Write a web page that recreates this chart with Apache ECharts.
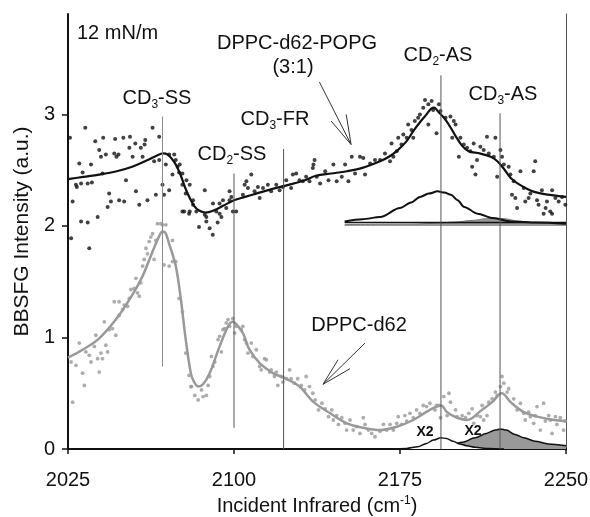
<!DOCTYPE html>
<html><head><meta charset="utf-8">
<script src="https://cdn.jsdelivr.net/npm/echarts@6/dist/echarts.min.js"></script>
<style>html,body{margin:0;padding:0;background:#fff}#c{width:590px;height:517px}</style>
</head><body><div id="c"></div>
<script>
// ---- data (wavenumber cm-1, intensity a.u.) ----
const xTicks = [2025, 2100, 2175, 2250];
const yTicks = [0, 1, 2, 3];

// DPPC-d62-POPG (3:1) measured points
const mixDots = [[2025.9,2.79],[2032.8,2.88],[2037.3,2.76],[2040.9,2.79],[2046.3,2.78],[2050.0,2.79],[2053.0,2.80],[2055.4,2.74],[2059.6,2.73],[2059.9,2.77],[2063.2,2.88],[2066.2,2.80],[2030.1,2.56],[2031.6,2.48],[2035.4,2.55],[2039.1,2.68],[2039.9,2.62],[2042.1,2.64],[2045.9,2.65],[2046.9,2.62],[2047.8,2.64],[2052.7,2.70],[2054.2,2.62],[2057.9,2.70],[2058.7,2.62],[2063.9,2.58],[2066.2,2.59],[2069.2,2.55],[2070.7,2.64],[2073.0,2.64],[2073.7,2.59],[2074.5,2.53],[2075.2,2.48],[2076.7,2.37],[2078.2,2.29],[2077.5,2.13],[2028.6,2.37],[2030.9,2.38],[2033.9,2.38],[2035.8,2.39],[2040.6,2.47],[2051.2,2.41],[2055.7,2.31],[2067.7,2.37],[2043.6,2.29],[2048.1,2.23],[2044.4,2.22],[2042.9,2.17],[2050.4,2.22],[2057.2,2.19],[2060.9,2.23],[2064.7,2.28],[2027.1,2.22],[2030.9,2.04],[2033.9,2.03],[2038.4,2.08],[2070.7,2.32],[2072.2,2.46],[2068.4,2.28],[2034.6,1.80],[2026.4,1.89],[2076.7,2.13],[2079.7,2.11],[2029.0,2.35],[2084.2,1.99],[2090.4,1.92],[2092.6,2.03],[2087.5,2.08],[2093.5,2.11],[2098.0,2.23],[2105.6,2.40],[2107.8,2.46],[2080.0,2.13],[2081.5,2.23],[2078.5,2.41],[2076.7,2.47],[2075.5,2.55],
[2080.0,2.37],[2081.5,2.19],[2083.0,2.13],[2086.8,2.32],[2086.8,2.10],[2087.5,2.04],[2089.0,1.98],[2090.5,2.20],[2092.0,2.13],[2093.5,2.20],[2094.3,2.08],[2095.0,2.23],[2096.5,2.16],[2098.0,2.31],[2098.8,2.26],[2099.5,2.13],[2101.0,2.13],[2104.0,2.28],[2104.8,2.37],[2106.3,2.34],[2109.3,2.31],[2110.8,2.35],[2111.6,2.25],[2113.1,2.34],[2115.3,2.37],[2116.8,2.31],[2119.1,2.37],[2120.6,2.32],[2122.1,2.35],[2123.6,2.41],[2125.8,2.34],[2126.6,2.46],[2128.1,2.47],[2129.6,2.41],[2131.1,2.40],[2132.6,2.44],[2134.1,2.40],[2135.6,2.52],[2136.4,2.59],
[2135.9,2.55],[2137.4,2.44],[2138.9,2.38],[2141.2,2.49],[2142.7,2.41],[2144.9,2.55],[2146.4,2.40],[2148.7,2.44],[2150.2,2.55],[2151.7,2.40],[2153.2,2.62],[2154.7,2.47],[2156.9,2.62],[2158.4,2.61],[2159.2,2.46],[2161.5,2.56],[2163.7,2.59],[2166.0,2.59],[2168.2,2.65],[2170.5,2.58],[2171.2,2.74],[2172.0,2.62],[2173.5,2.67],[2174.2,2.79],[2175.7,2.73],[2176.5,2.82],[2178.0,2.79],[2178.7,2.91],[2180.2,2.86],[2181.0,2.79],[2181.7,2.94],[2183.2,2.97],[2184.0,3.00],[2185.5,3.06],[2186.3,3.13],[2187.8,3.09],[2189.3,3.12],[2190.0,3.04],[2187.8,2.91],[2191.5,2.83],
[2192.6,3.09],[2193.3,3.03],[2195.6,2.97],[2197.8,2.98],[2199.3,2.94],[2198.6,2.79],[2200.1,2.91],[2202.3,2.79],[2201.6,2.62],[2203.8,2.73],[2205.3,2.70],[2206.8,2.67],[2207.6,2.53],[2208.3,2.74],[2209.1,2.46],[2209.8,2.59],[2211.3,2.71],[2212.8,2.68],[2214.3,2.80],[2215.1,2.65],[2217.4,2.62],[2218.1,2.79],[2218.9,2.44],[2220.4,2.68],[2221.1,2.62],[2221.9,2.55],[2224.1,2.53],[2224.9,2.46],[2226.4,2.40],[2225.6,2.28],[2227.1,2.25],[2227.9,2.16],[2229.4,2.49],[2230.9,2.34],[2231.6,2.22],[2233.1,2.25],[2233.9,2.29],[2235.4,2.49],[2236.1,2.58],[2236.9,2.23],[2237.6,2.19],[2239.1,2.32],[2239.9,2.11],[2241.4,2.22],[2242.9,2.13],[2243.7,2.32],[2245.2,2.25],[2246.7,2.22],[2248.2,2.26],[2249.7,2.19],[2240.8,2.16],[2243.7,2.11]];

// DPPC-d62-POPG fit
const mixFit = [[2025,2.42],[2032,2.44],[2039,2.46],[2047,2.49],[2054,2.53],[2061,2.59],[2065,2.63],[2068,2.65],[2070,2.64],[2072,2.60],[2074,2.54],[2076,2.45],[2078,2.34],[2080,2.25],[2082,2.18],[2084,2.14],[2087,2.12],[2091,2.14],[2095,2.18],[2100,2.23],[2105,2.26],[2110,2.29],[2117,2.33],[2125,2.37],[2132,2.41],[2137,2.45],[2144,2.47],[2151,2.49],[2158,2.52],[2166,2.58],[2170,2.62],[2174,2.68],[2178,2.76],[2181,2.85],[2184,2.93],[2187,3.0],[2189,3.05],[2190.5,3.06],[2192,3.03],[2196,2.94],[2200,2.81],[2203,2.72],[2206,2.67],[2211,2.65],[2216,2.62],[2219,2.58],[2222,2.51],[2225,2.43],[2229,2.37],[2235,2.31],[2242,2.28],[2250,2.26]];

// DPPC-d62 measured points
const pureDots = [[2026.4,0.78],[2028.6,0.75],[2030.1,0.95],[2031.6,0.68],[2032.4,0.57],[2027.1,0.42],[2033.1,0.87],[2034.6,0.84],[2035.4,0.78],[2036.9,0.92],[2037.6,1.02],[2038.4,0.81],[2039.1,0.69],[2039.9,0.86],[2040.6,0.81],[2042.1,0.93],[2042.9,0.87],[2041.4,1.14],[2043.6,1.07],[2045.1,1.08],[2046.6,1.02],[2045.9,1.32],[2048.1,1.32],[2048.1,1.20],[2049.7,1.25],[2050.4,1.29],[2051.9,1.28],[2052.7,1.35],[2053.4,1.43],[2054.9,1.44],[2055.7,1.53],[2056.4,1.40],[2057.2,1.37],[2057.9,1.49],[2058.7,1.64],[2059.4,1.70],[2060.2,1.80],[2060.9,1.75],[2061.7,1.86],[2062.4,1.90],[2063.2,1.93],[2063.9,1.70],[2064.7,1.87],[2065.4,2.02],[2066.9,2.02],[2067.7,2.01],[2069.2,2.01],[2072.2,1.87],[2068.4,1.65],[2070.7,1.64],[2072.2,1.68],[2073.7,1.68],[2075.2,1.35],[2076.7,1.23],[2078.2,0.86],[2079.7,0.66],[2080.5,0.56],
[2080.8,0.56],[2082.3,0.48],[2083.8,0.44],[2085.3,0.53],[2086.0,0.47],[2087.5,0.48],[2088.3,0.57],[2089.0,0.65],[2090.5,0.74],[2089.8,0.83],[2091.3,0.78],[2092.8,0.98],[2093.5,1.01],[2094.3,0.87],[2095.0,1.07],[2095.8,1.08],[2096.5,1.13],[2097.3,1.16],[2098.0,1.10],[2099.5,1.17],[2100.3,1.04],[2101.0,1.10],[2103.3,1.07],[2104.0,1.10],[2104.8,0.98],[2105.6,0.95],[2106.3,0.86],[2107.8,0.95],[2108.6,0.83],[2110.1,0.89],[2111.6,0.74],[2112.3,0.71],[2113.8,0.81],[2114.6,0.80],[2116.1,0.69],[2116.8,0.71],[2118.3,0.65],[2119.1,0.69],[2119.8,0.57],[2121.3,0.65],[2122.1,0.60],[2123.6,0.63],[2125.1,0.71],[2125.8,0.63],[2127.3,0.59],[2128.8,0.63],[2130.4,0.57],[2131.9,0.53],[2132.6,0.65],[2134.1,0.56],[2135.6,0.50],
[2136.7,0.44],[2138.2,0.35],[2139.7,0.41],[2141.2,0.36],[2142.7,0.29],[2144.2,0.35],[2144.9,0.26],[2146.4,0.30],[2147.2,0.22],[2148.7,0.28],[2150.2,0.23],[2150.9,0.17],[2152.4,0.26],[2153.9,0.17],[2155.4,0.20],[2156.9,0.14],[2158.4,0.28],[2159.2,0.22],[2160.7,0.17],[2162.2,0.14],[2163.7,0.11],[2166.0,0.16],[2167.5,0.22],[2169.0,0.17],[2170.5,0.22],[2172.0,0.17],[2173.5,0.23],[2174.2,0.29],[2175.7,0.22],[2177.2,0.30],[2178.0,0.25],[2179.5,0.32],[2181.0,0.28],[2182.5,0.35],[2184.0,0.32],[2185.5,0.39],[2187.0,0.38],[2188.5,0.41],[2190.8,0.35],[2191.5,0.39],
[2192.6,0.39],[2194.8,0.47],[2197.1,0.50],[2197.8,0.42],[2193.3,0.28],[2196.3,0.30],[2200.1,0.35],[2200.8,0.29],[2203.1,0.30],[2204.6,0.28],[2206.1,0.32],[2207.6,0.36],[2208.3,0.23],[2209.8,0.30],[2211.3,0.29],[2212.1,0.39],[2212.8,0.26],[2214.3,0.30],[2215.1,0.42],[2216.6,0.45],[2218.1,0.51],[2218.9,0.48],[2220.4,0.56],[2221.1,0.65],[2221.9,0.59],[2223.4,0.51],[2224.1,0.54],[2226.4,0.45],[2227.9,0.35],[2229.4,0.41],[2230.9,0.32],[2231.6,0.26],[2233.1,0.33],[2233.9,0.29],[2235.4,0.23],[2236.1,0.30],[2236.9,0.38],[2238.4,0.17],[2239.9,0.41],[2240.7,0.25],[2242.2,0.30],[2242.9,0.26],[2243.7,0.14],[2245.2,0.29],[2245.9,0.22],[2247.4,0.28],[2248.9,0.17],[2249.7,0.25]];

// DPPC-d62 fit
const pureFit = [[2025,0.82],[2031.6,0.89],[2039,0.99],[2046.6,1.16],[2054,1.38],[2058.7,1.55],[2063,1.76],[2066,1.9],[2067.7,1.95],[2069,1.94],[2070.7,1.84],[2073.7,1.64],[2076,1.34],[2078.2,0.98],[2080.5,0.68],[2082,0.6],[2084,0.56],[2086,0.58],[2089,0.68],[2093.5,0.92],[2097.3,1.10],[2099.5,1.14],[2101,1.12],[2104,1.04],[2107,0.89],[2111.6,0.77],[2117.6,0.68],[2123.6,0.63],[2129.6,0.56],[2136,0.42],[2143.5,0.32],[2151,0.23],[2158.5,0.19],[2166,0.17],[2173.5,0.20],[2181,0.26],[2188.5,0.35],[2193.5,0.39],[2196.3,0.33],[2200.8,0.28],[2205.4,0.26],[2211.4,0.34],[2216.6,0.42],[2221,0.50],[2225,0.42],[2231,0.33],[2237,0.29],[2244.5,0.26],[2250,0.25]];

// fitted components
const mixCD2AS = [[2150,2.04],[2158,2.06],[2166,2.08],[2175,2.16],[2180,2.21],[2184,2.26],[2188,2.29],[2192,2.31],[2195,2.30],[2198,2.28],[2201,2.23],[2204,2.17],[2210,2.11],[2217,2.07],[2225,2.04],[2237,2.03],[2250,2.02]];
const mixCD3AS = [[2150,2.012],[2180,2.016],[2190,2.022],[2200,2.035],[2208,2.05],[2214,2.065],[2218,2.07],[2222,2.065],[2228,2.045],[2235,2.03],[2242,2.022],[2250,2.018]];
const mixBase = [[2150,2.03],[2250,2.03]];
const pureCD2AS = [[2170,0],[2178,0.005],[2183,0.02],[2187,0.05],[2190,0.08],[2193.5,0.10],[2196,0.095],[2199,0.07],[2202,0.045],[2205,0.03],[2209,0.015],[2215,0.005],[2222,0]];
const pureCD3AS = [[2180,0.005],[2190,0.015],[2197,0.03],[2203,0.06],[2209,0.10],[2214,0.14],[2218,0.17],[2220.5,0.18],[2223,0.17],[2227,0.13],[2231,0.10],[2236,0.07],[2242,0.045],[2250,0.03]];

// assignment lines
const peakX = [2067.7, 2100, 2122.4, 2193.5, 2220.2];
const peakLow = [0.74, 0.19, 0, 0, 0];
const peakHigh = [2.98, 2.47, 2.69, 3.35, 3.01];
const peakColor = ['#8a8a8a', '#555', '#555', '#555', '#555'];

// arrows
const mixArrow = [[2138.6,3.29],[2152.9,2.73]];
const mixArrowHead = [[2143.9,2.94],[2152.9,2.73],[2150.7,3.00]];
const pureArrow = [[2159.2,0.95],[2140.2,0.58]];
const pureArrowHead = [[2147.0,0.80],[2140.2,0.58],[2152.4,0.72]];

// ---- chart ----
const FONT = '"Liberation Sans", Arial, Helvetica, sans-serif';
const chart = echarts.init(document.getElementById('c'), null, {renderer: 'canvas'});

const series = [];
peakX.forEach((x, i) => {
  series.push({type: 'line', data: [[x, peakLow[i]], [x, peakHigh[i]]], showSymbol: false,
    lineStyle: {color: peakColor[i], width: 1}, z: 8, silent: true});
});
series.push({type: 'scatter', data: pureDots, symbol: 'circle', symbolSize: 3.8,
  itemStyle: {color: '#999'}, z: 2, silent: true});
series.push({type: 'line', data: pureFit, smooth: 0.35, showSymbol: false,
  lineStyle: {color: '#999', width: 2.5}, z: 3, silent: true});
series.push({type: 'scatter', data: mixDots, symbol: 'circle', symbolSize: 4,
  itemStyle: {color: '#111'}, z: 2, silent: true});
series.push({type: 'line', data: mixFit, smooth: 0.35, showSymbol: false,
  lineStyle: {color: '#111', width: 2.2}, z: 3, silent: true});
series.push({type: 'line', data: mixCD3AS, smooth: 0.3, smoothMonotone: 'x', showSymbol: false,
  lineStyle: {color: '#777', width: 1}, areaStyle: {color: '#999', opacity: 1, origin: 2.0}, z: 4, silent: true});
series.push({type: 'line', data: mixBase, showSymbol: false,
  lineStyle: {color: '#111', width: 1.5}, z: 5, silent: true});
series.push({type: 'line', data: mixCD2AS, smooth: 0.3, smoothMonotone: 'x', showSymbol: false,
  lineStyle: {color: '#111', width: 2}, z: 5, silent: true});
series.push({type: 'line', data: pureCD3AS, smooth: 0.3, smoothMonotone: 'x', showSymbol: false,
  lineStyle: {color: '#111', width: 1.5}, areaStyle: {color: '#999', opacity: 1}, z: 4, silent: true});
series.push({type: 'line', data: pureCD2AS, smooth: 0.3, smoothMonotone: 'x', showSymbol: false,
  lineStyle: {color: '#111', width: 1.5}, areaStyle: {color: '#fff', opacity: 1}, z: 5, silent: true});
[mixArrow, mixArrowHead, pureArrow, pureArrowHead].forEach(a => {
  series.push({type: 'line', data: a, showSymbol: false,
    lineStyle: {color: '#333', width: 1}, z: 9, silent: true});
});

const sub = {fontSize: 12, lineHeight: 10, verticalAlign: 'bottom', fontFamily: FONT, fill: '#111'};
const sup = {fontSize: 12, lineHeight: 10, verticalAlign: 'top', fontFamily: FONT, fill: '#111'};
const nrm = {fontSize: 20, lineHeight: 26, fontFamily: FONT, fill: '#111'};
function txt(text, x, y, align, extra) {
  return {type: 'text', x: x, y: y, z: 20, silent: true,
    style: Object.assign({text: text, rich: {n: nrm, s: sub, p: sup}, align: align || 'center',
      verticalAlign: 'middle', fontFamily: FONT, fontSize: 20, fill: '#111'}, extra || {})};
}

chart.setOption({
  animation: false,
  backgroundColor: '#fff',
  grid: {left: 68, right: 24, top: 14, bottom: 68, containLabel: false, outerBoundsMode: 'none'},
  xAxis: [{
    type: 'value', min: xTicks[0], max: xTicks[xTicks.length - 1], interval: xTicks[1] - xTicks[0],
    name: '{n|Incident Infrared (cm}{p|-1}{n|)}', nameLocation: 'middle', nameGap: 42,
    nameTextStyle: {rich: {n: {fontSize: 20, lineHeight: 24, fontFamily: FONT, color: '#111'},
      p: {fontSize: 12, lineHeight: 10, verticalAlign: 'top', fontFamily: FONT, color: '#111'}}},
    axisLine: {show: true, lineStyle: {color: '#111', width: 2}},
    axisTick: {show: true, inside: false, length: 5, lineStyle: {color: '#111', width: 1.5}},
    axisLabel: {fontSize: 20, fontFamily: FONT, color: '#111', margin: 21, formatter: v => String(v)},
    splitLine: {show: false}
  }, {
    type: 'value', position: 'top', min: xTicks[0], max: xTicks[xTicks.length - 1],
    axisLine: {show: true, lineStyle: {color: '#111', width: 2}},
    axisTick: {show: false}, axisLabel: {show: false}, splitLine: {show: false}
  }],
  yAxis: [{
    type: 'value', min: yTicks[0], max: 3.9, interval: 1,
    name: 'BBSFG Intensity (a.u.)', nameLocation: 'middle', nameGap: 34,
    nameTextStyle: {fontSize: 21, fontFamily: FONT, color: '#111'},
    axisLine: {show: true, lineStyle: {color: '#111', width: 2}},
    axisTick: {show: true, inside: false, length: 6, lineStyle: {color: '#111', width: 1.5}},
    axisLabel: {fontSize: 20, fontFamily: FONT, color: '#111', margin: 13, showMaxLabel: false,
      formatter: v => (yTicks.indexOf(v) >= 0 ? String(v) : '')},
    splitLine: {show: false}
  }, {
    type: 'value', position: 'right', min: yTicks[0], max: 3.9,
    axisLine: {show: true, lineStyle: {color: '#555', width: 1}},
    axisTick: {show: false}, axisLabel: {show: false}, splitLine: {show: false}
  }],
  series: series,
  graphic: [
    txt('{n|12 mN/m}', 77, 33, 'left'),
    txt('{n|DPPC-d62-POPG}', 297, 43),
    txt('{n|(3:1)}', 293, 67),
    txt('{n|CD}{s|3}{n|-SS}', 157, 98),
    txt('{n|CD}{s|2}{n|-SS}', 232, 154),
    txt('{n|CD}{s|3}{n|-FR}', 275, 119),
    txt('{n|CD}{s|2}{n|-AS}', 438, 55),
    txt('{n|CD}{s|3}{n|-AS}', 503, 94),
    txt('{n|DPPC-d62}', 359, 325),
    {type: 'text', x: 425, y: 432, z: 20, silent: true,
      style: {text: 'X2', fontSize: 14, fontWeight: 'bold', fontFamily: FONT, fill: '#111', align: 'center', verticalAlign: 'middle'}},
    {type: 'text', x: 473, y: 431, z: 20, silent: true,
      style: {text: 'X2', fontSize: 14, fontWeight: 'bold', fontFamily: FONT, fill: '#111', align: 'center', verticalAlign: 'middle'}}
  ]
});
</script>
</body></html>
